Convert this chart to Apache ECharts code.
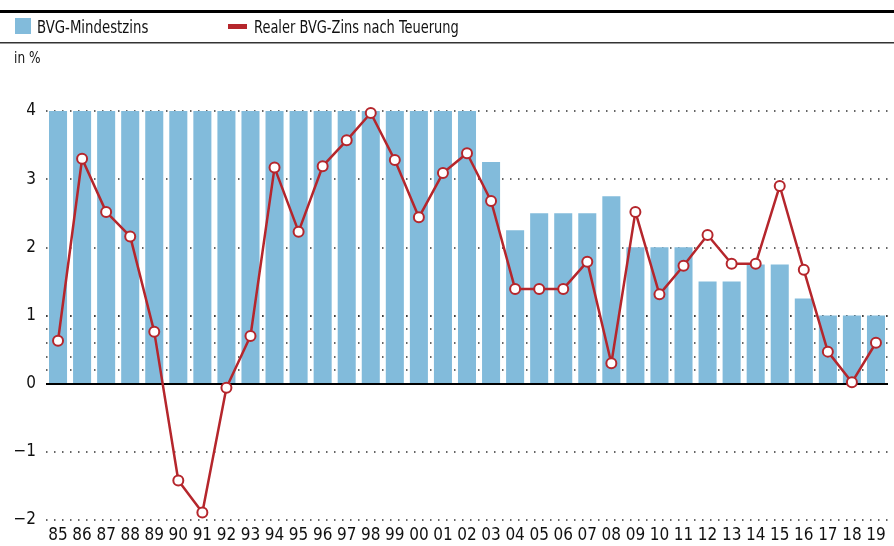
<!DOCTYPE html>
<html>
<head>
<meta charset="utf-8">
<script src="https://cdn.jsdelivr.net/npm/echarts@6/dist/echarts.min.js"></script>
<style>
	html, body { margin: 0; padding: 0; background: #fff; }
	#chartmain { width: 894px; height: 546px; }
</style>
</head>
<body>
<div id="chartmain"></div>
<script>
var years = ['85', '86', '87', '88', '89', '90', '91', '92', '93', '94', '95', '96', '97', '98', '99', '00', '01', '02',
	'03', '04', '05', '06', '07', '08', '09', '10', '11', '12', '13', '14', '15', '16', '17', '18', '19'];
var mindestzins = [4, 4, 4, 4, 4, 4, 4, 4, 4, 4, 4, 4, 4, 4, 4, 4, 4, 4,
	3.25, 2.25, 2.5, 2.5, 2.5, 2.75, 2, 2, 2, 1.5, 1.5, 1.75, 1.75, 1.25, 1, 1, 1];
var realerZins = [0.63, 3.3, 2.52, 2.16, 0.76, -1.42, -1.89, -0.06, 0.7, 3.17, 2.23, 3.19, 3.57, 3.97, 3.28, 2.44, 3.09, 3.38,
	2.68, 1.39, 1.39, 1.39, 1.79, 0.3, 2.52, 1.31, 1.73, 2.18, 1.76, 1.76, 2.9, 1.67, 0.47, 0.02, 0.6];

var font = '"Liberation Sans Narrow", "DejaVu Sans Condensed", sans-serif';
var blue = '#82bbdb';
var red = '#b5262c';
var dotted = { color : '#333', width : 1.5, type : [1.5, 6.5] };

// Haupt-Grid: -2 bis 4, Hoehe 409px; zweites Grid nur fuer die feinen Linien zwischen 0 und 1
var gridTop = 111, gridBottom = 26, unit = (546 - gridTop - gridBottom) / 6;

var option = {
	animation : false,
	textStyle : { fontFamily : font },
	graphic : [
		{ type : 'rect', shape : { x : 0, y : 10, width : 894, height : 3 }, style : { fill : '#000' } },
		{ type : 'rect', shape : { x : 15, y : 18, width : 16, height : 16 }, style : { fill : blue } },
		{ type : 'text', x : 37, y : 20, scaleX : 0.87, style : { text : 'BVG-Mindestzins', font : '17px ' + font, fill : '#111' } },
		{ type : 'rect', shape : { x : 228, y : 24, width : 19, height : 5 }, style : { fill : red } },
		{ type : 'text', x : 254, y : 20, scaleX : 0.85, style : { text : 'Realer BVG-Zins nach Teuerung', font : '17px ' + font, fill : '#111' } },
		{ type : 'rect', shape : { x : 0, y : 42, width : 894, height : 1.5 }, style : { fill : '#333' } },
		{ type : 'text', x : 14, y : 52, scaleX : 0.9, style : { text : 'in %', font : '15px ' + font, fill : '#111' } }
	],
	grid : [
		{ left : 46, right : 6, top : gridTop, bottom : gridBottom },
		{ left : 46, right : 6, top : gridTop + 3 * unit, bottom : gridBottom + 2 * unit }
	],
	xAxis : [
		{
			type : 'category',
			data : years,
			gridIndex : 0,
			axisLine : { show : false },
			axisTick : { show : false },
			axisLabel : { color : '#111', fontSize : 17, margin : 7, interval : 0 }
		},
		{
			type : 'category',
			data : years,
			gridIndex : 1,
			show : false
		}
	],
	yAxis : [
		{
			type : 'value',
			gridIndex : 0,
			min : -2,
			max : 4,
			interval : 1,
			axisLine : { show : false },
			axisTick : { show : false },
			axisLabel : {
				color : '#111',
				fontSize : 17,
				margin : 10,
				formatter : function(v) { return String(v).replace('-', '\u2212'); }
			},
			splitLine : { lineStyle : dotted }
		},
		{
			type : 'value',
			gridIndex : 1,
			min : 0,
			max : 1,
			interval : 0.2,
			axisLine : { show : false },
			axisTick : { show : false },
			axisLabel : { show : false },
			splitLine : { lineStyle : dotted }
		}
	],
	series : [
		{
			name : 'BVG-Mindestzins',
			type : 'bar',
			data : mindestzins,
			barCategoryGap : '25%',
			itemStyle : { color : blue },
			z : 2,
			markLine : {
				silent : true,
				symbol : 'none',
				label : { show : false },
				lineStyle : { color : '#000', width : 2, type : 'solid' },
				data : [ { yAxis : 0 } ]
			}
		},
		{
			name : 'Realer BVG-Zins nach Teuerung',
			type : 'line',
			data : realerZins,
			z : 5,
			symbol : 'circle',
			symbolSize : 10,
			lineStyle : { color : red, width : 2.5 },
			itemStyle : { color : '#fff', borderColor : red, borderWidth : 2 }
		}
	]
};

var myChart = echarts.init(document.getElementById('chartmain'));
myChart.setOption(option);
</script>
</body>
</html>
